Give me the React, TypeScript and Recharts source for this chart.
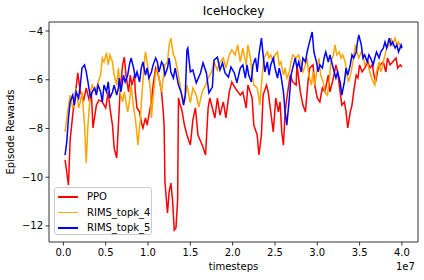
import { LineChart, Line, XAxis, YAxis, ReferenceArea } from 'recharts'

const X_TICKS = [0, 0.5, 1, 1.5, 2, 2.5, 3, 3.5, 4]
const Y_TICKS = [-12, -10, -8, -6, -4]
const X_DOMAIN = [-0.17, 4.19]
const Y_DOMAIN = [-12.66, -3.63]

// timesteps are in units of 1e7
const ppoSteps = [
  0.02, 0.06, 0.08, 0.11, 0.14, 0.17, 0.2, 0.24, 0.27, 0.31, 0.33, 0.35, 0.39, 0.42, 0.46, 0.5,
  0.53, 0.55, 0.58, 0.6, 0.63, 0.65, 0.67, 0.7, 0.72, 0.74, 0.77, 0.79, 0.81, 0.84, 0.85, 0.87,
  0.9, 0.92, 0.94, 0.97, 0.99, 1.01, 1.04, 1.06, 1.09, 1.11, 1.13, 1.16, 1.18, 1.19, 1.2, 1.23,
  1.25, 1.27, 1.29, 1.31, 1.33, 1.35, 1.36, 1.38, 1.4, 1.43, 1.46, 1.5, 1.53, 1.56, 1.59, 1.64,
  1.68, 1.71, 1.73, 1.76, 1.79, 1.82, 1.85, 1.89, 1.92, 1.96, 1.99, 2.03, 2.09, 2.12, 2.16, 2.18,
  2.23, 2.25, 2.29, 2.31, 2.34, 2.36, 2.4, 2.42, 2.45, 2.48, 2.51, 2.54, 2.56, 2.58, 2.6, 2.62,
  2.64, 2.68, 2.71, 2.75, 2.76, 2.8, 2.83, 2.86, 2.89, 2.91, 2.95, 2.97, 3.0, 3.03, 3.06, 3.09,
  3.13, 3.15, 3.19, 3.22, 3.24, 3.27, 3.29, 3.32, 3.34, 3.36, 3.39, 3.41, 3.43, 3.46, 3.48, 3.5,
  3.53, 3.56, 3.6, 3.62, 3.65, 3.67, 3.69, 3.72, 3.74, 3.78, 3.81, 3.83, 3.86, 3.89, 3.93, 3.95,
  3.98, 4.0,
]
const ppoRewards = [
  -9.29, -10.32, -8.47, -7.45, -6.63, -5.72, -6.5, -6.83, -6.34, -6.91, -6.5, -7.98, -7.04, -6.83, -6.91, -7.16,
  -6.5, -7.16, -7.86, -8.8, -9.21, -7.86, -6.5, -5.39, -5.07, -5.81, -6.5, -5.81, -6.22, -5.81, -6.5, -7.16,
  -7.32, -7.73, -7.98, -7.57, -7.86, -7.45, -6.91, -6.22, -5.52, -5.68, -5.93, -6.5, -7.32, -7.86, -10.2, -11.47,
  -10.6, -10.24, -10.93, -12.17, -12.08, -10.93, -6.75, -7.04, -7.24, -7.86, -8.27, -8.68, -7.65, -7.16, -8.27, -8.68,
  -9.09, -7.16, -6.75, -7.16, -7.57, -6.75, -7.45, -6.91, -7.57, -6.5, -6.09, -6.34, -6.63, -6.5, -7.16, -6.22,
  -6.75, -7.86, -8.27, -9.09, -8.27, -6.63, -6.22, -6.5, -7.32, -8.14, -6.75, -7.32, -6.91, -8.14, -8.68, -7.32,
  -6.75, -5.81, -6.09, -6.22, -5.39, -6.5, -7.04, -7.32, -6.09, -5.52, -5.39, -6.22, -6.75, -6.91, -6.34, -6.5,
  -5.81, -6.5, -5.93, -5.39, -5.68, -6.5, -7.04, -6.91, -7.32, -7.98, -7.32, -7.04, -6.5, -5.81, -5.93, -5.39,
  -5.68, -5.52, -5.27, -5.52, -5.39, -5.81, -6.09, -5.52, -5.39, -5.27, -5.68, -5.11, -5.39, -5.27, -5.11, -5.52,
  -5.39, -5.48,
]

const topk4Steps = [
  0.02, 0.05, 0.08, 0.11, 0.13, 0.15, 0.18, 0.2, 0.22, 0.25, 0.27, 0.29, 0.32, 0.34, 0.38, 0.4,
  0.44, 0.46, 0.48, 0.51, 0.53, 0.55, 0.58, 0.6, 0.63, 0.65, 0.67, 0.7, 0.72, 0.76, 0.78, 0.8,
  0.83, 0.85, 0.87, 0.88, 0.91, 0.93, 0.96, 0.97, 1.0, 1.03, 1.04, 1.06, 1.09, 1.11, 1.13, 1.16,
  1.18, 1.2, 1.23, 1.25, 1.27, 1.3, 1.32, 1.36, 1.39, 1.43, 1.46, 1.5, 1.53, 1.57, 1.6, 1.64,
  1.68, 1.71, 1.75, 1.78, 1.82, 1.85, 1.89, 1.92, 1.96, 1.99, 2.03, 2.06, 2.09, 2.12, 2.16, 2.18,
  2.21, 2.23, 2.25, 2.29, 2.31, 2.32, 2.35, 2.37, 2.41, 2.43, 2.45, 2.48, 2.5, 2.53, 2.55, 2.57,
  2.6, 2.62, 2.64, 2.67, 2.69, 2.71, 2.75, 2.78, 2.81, 2.83, 2.86, 2.88, 2.9, 2.93, 2.95, 2.97,
  3.0, 3.02, 3.04, 3.07, 3.09, 3.12, 3.14, 3.16, 3.19, 3.21, 3.23, 3.26, 3.28, 3.3, 3.33, 3.35,
  3.37, 3.4, 3.42, 3.45, 3.47, 3.49, 3.52, 3.54, 3.56, 3.59, 3.61, 3.63, 3.66, 3.68, 3.7, 3.73,
  3.75, 3.78, 3.8, 3.82, 3.85, 3.87, 3.89, 3.92, 3.94, 3.96, 3.99, 4.0,
]
const topk4Rewards = [
  -8.14, -7.32, -6.63, -7.16, -7.04, -6.34, -7.16, -6.91, -6.5, -7.86, -9.42, -7.86, -6.5, -6.22, -6.5, -6.22,
  -5.81, -5.11, -5.27, -4.9, -5.39, -4.98, -5.27, -5.81, -6.22, -5.52, -6.5, -6.91, -6.5, -7.32, -6.91, -6.22,
  -7.16, -7.57, -8.27, -8.68, -7.57, -6.5, -5.11, -4.86, -5.52, -6.5, -7.57, -6.75, -5.68, -5.52, -5.93, -6.5,
  -5.93, -5.39, -5.27, -4.57, -4.29, -4.98, -5.11, -5.81, -6.5, -6.91, -6.22, -6.95, -6.34, -6.63, -7.12, -6.5,
  -6.22, -5.93, -5.68, -5.27, -5.6, -5.27, -5.11, -5.52, -4.98, -4.78, -4.98, -4.57, -5.27, -4.7, -5.39, -4.57,
  -5.11, -5.81, -6.22, -6.34, -6.75, -7.04, -5.81, -5.11, -4.86, -5.11, -4.98, -5.27, -4.98, -4.86, -5.39, -5.27,
  -5.81, -5.52, -5.93, -5.68, -5.27, -4.98, -5.11, -4.98, -5.39, -5.68, -5.39, -5.11, -5.81, -6.22, -5.68, -6.22,
  -5.52, -5.11, -5.81, -6.09, -6.5, -6.63, -6.09, -5.27, -4.98, -4.57, -4.98, -4.86, -5.11, -4.98, -5.27, -5.81,
  -6.09, -5.68, -5.27, -4.57, -4.86, -5.11, -4.86, -4.98, -5.39, -5.27, -5.52, -5.81, -6.09, -6.22, -5.68, -5.27,
  -5.68, -5.27, -4.98, -4.7, -4.57, -4.29, -4.57, -4.29, -4.57, -4.45, -4.7, -4.57,
]

const topk5Steps = [
  0.02, 0.04, 0.06, 0.08, 0.11, 0.13, 0.15, 0.18, 0.2, 0.22, 0.25, 0.27, 0.29, 0.32, 0.34, 0.37,
  0.39, 0.41, 0.44, 0.46, 0.48, 0.51, 0.53, 0.55, 0.58, 0.6, 0.63, 0.65, 0.66, 0.68, 0.71, 0.73,
  0.76, 0.78, 0.8, 0.83, 0.85, 0.87, 0.9, 0.92, 0.94, 0.97, 0.99, 1.01, 1.04, 1.06, 1.09, 1.11,
  1.13, 1.16, 1.18, 1.2, 1.23, 1.25, 1.27, 1.3, 1.32, 1.36, 1.39, 1.42, 1.44, 1.46, 1.47, 1.5,
  1.53, 1.57, 1.62, 1.65, 1.69, 1.72, 1.76, 1.78, 1.82, 1.85, 1.88, 1.91, 1.95, 1.98, 2.02, 2.05,
  2.09, 2.12, 2.15, 2.17, 2.19, 2.22, 2.24, 2.27, 2.29, 2.31, 2.34, 2.36, 2.38, 2.41, 2.43, 2.45,
  2.48, 2.5, 2.53, 2.55, 2.57, 2.6, 2.62, 2.64, 2.67, 2.69, 2.71, 2.74, 2.76, 2.78, 2.81, 2.83,
  2.86, 2.88, 2.9, 2.93, 2.94, 2.96, 2.99, 3.01, 3.03, 3.06, 3.08, 3.1, 3.13, 3.15, 3.17, 3.2,
  3.22, 3.24, 3.27, 3.29, 3.32, 3.34, 3.36, 3.39, 3.41, 3.43, 3.46, 3.47, 3.49, 3.52, 3.54, 3.56,
  3.59, 3.61, 3.63, 3.66, 3.68, 3.7, 3.73, 3.75, 3.78, 3.8, 3.82, 3.85, 3.87, 3.89, 3.92, 3.94,
  3.96, 3.99, 4.0,
]
const topk5Rewards = [
  -9.09, -8.55, -7.57, -6.91, -6.63, -7.04, -6.5, -6.75, -6.22, -5.52, -5.39, -5.68, -6.09, -6.75, -6.5, -6.34,
  -6.63, -6.22, -6.5, -6.91, -6.22, -6.5, -6.09, -6.75, -6.5, -6.22, -6.63, -6.34, -5.93, -6.5, -5.81, -6.09,
  -5.81, -5.39, -5.11, -5.52, -5.93, -5.68, -6.09, -5.52, -5.27, -5.81, -5.52, -5.93, -5.68, -5.39, -5.11, -5.27,
  -5.68, -5.27, -5.39, -5.81, -5.52, -5.11, -5.68, -5.93, -5.52, -6.22, -6.5, -7.04, -6.63, -4.78, -4.7, -5.68,
  -5.6, -6.13, -5.72, -5.31, -5.72, -6.54, -6.3, -5.19, -5.07, -5.6, -5.31, -5.72, -5.89, -5.48, -5.72, -6.13,
  -5.52, -5.39, -5.93, -5.39, -5.81, -6.09, -5.39, -5.11, -5.68, -4.98, -4.29, -4.98, -5.68, -5.27, -5.81, -5.39,
  -5.11, -5.52, -5.93, -5.52, -5.81, -6.5, -7.32, -7.86, -6.75, -5.81, -5.52, -5.11, -5.52, -5.27, -5.68, -5.11,
  -5.27, -4.86, -4.57, -4.16, -4.04, -4.86, -5.27, -5.68, -5.39, -5.52, -5.11, -4.86, -5.27, -4.98, -5.27, -5.68,
  -5.93, -5.68, -6.09, -6.63, -6.09, -5.52, -5.81, -5.39, -4.98, -5.11, -4.86, -4.57, -4.16, -4.57, -5.11, -4.98,
  -5.27, -4.98, -5.11, -5.39, -5.11, -4.86, -5.11, -4.86, -4.7, -4.45, -4.7, -4.29, -4.57, -4.45, -4.7, -4.57,
  -4.86, -4.57, -4.7,
]

const series = [
  { name: 'PPO', color: '#ff0000', steps: ppoSteps, rewards: ppoRewards },
  { name: 'RIMS_topk_4', color: '#ffa500', steps: topk4Steps, rewards: topk4Rewards },
  { name: 'RIMS_topk_5', color: '#0000ff', steps: topk5Steps, rewards: topk5Rewards },
]

const FONT = '"DejaVu Sans", sans-serif'
const fmtY = (v: number) => String(v).replace('-', '\u2212')

export default function App() {
  return (
    <div style={{ position: 'absolute', left: 0, top: 0, width: 424, height: 280, background: '#fff', fontFamily: FONT }}>
      <LineChart width={424} height={280} margin={{ top: 22, right: 6, bottom: 0, left: 0 }}>
        <XAxis
          type="number"
          dataKey="x"
          domain={X_DOMAIN}
          ticks={X_TICKS}
          allowDataOverflow
          height={38}
          axisLine={false}
          tickSize={3.5}
          tickMargin={3}
          tickLine={{ stroke: '#000', strokeWidth: 0.8 }}
          tick={{ fontSize: 10, fill: '#000', fontFamily: FONT }}
          tickFormatter={(v: number) => v.toFixed(1)}
        />
        <YAxis
          type="number"
          domain={Y_DOMAIN}
          ticks={Y_TICKS}
          allowDataOverflow
          width={49}
          axisLine={false}
          tickSize={3.5}
          tickMargin={2.5}
          tickLine={{ stroke: '#000', strokeWidth: 0.8 }}
          tick={{ fontSize: 10, fill: '#000', fontFamily: FONT }}
          tickFormatter={fmtY}
        />
        {series.map((s) => (
          <Line
            key={s.name}
            data={s.steps.map((x, i) => ({ x, y: s.rewards[i] }))}
            dataKey="y"
            name={s.name}
            type="linear"
            stroke={s.color}
            strokeWidth={1.5}
            dot={false}
            isAnimationActive={false}
          />
        ))}
        <ReferenceArea
          x1={X_DOMAIN[0]}
          x2={X_DOMAIN[1]}
          y1={Y_DOMAIN[0]}
          y2={Y_DOMAIN[1]}
          fill="none"
          stroke="#000"
          strokeWidth={0.8}
          ifOverflow="visible"
        />
      </LineChart>
      <div style={{ position: 'absolute', left: 49, width: 369, top: 4, textAlign: 'center', fontSize: 12 }}>IceHockey</div>
      <div style={{ position: 'absolute', left: 49, width: 369, top: 261, textAlign: 'center', fontSize: 10 }}>timesteps</div>
      <div style={{ position: 'absolute', left: 396, top: 261, fontSize: 10 }}>1e7</div>
      <div
        style={{
          position: 'absolute', left: 10, top: 132, fontSize: 10, whiteSpace: 'nowrap',
          transform: 'translate(-50%, -50%) rotate(-90deg)',
        }}
      >
        Episode Rewards
      </div>
      <div
        style={{
          position: 'absolute', left: 54, top: 187, width: 96, height: 46,
          border: '1px solid #cccccc', borderRadius: 3, background: 'rgba(255,255,255,0.8)',
          fontSize: 10,
        }}
      >
        {series.map((s, i) => (
          <div key={s.name} style={{ position: 'absolute', left: 3, top: 3 + i * 15.5, height: 12, display: 'flex', alignItems: 'center' }}>
            <span style={{ display: 'inline-block', width: 20, height: 1.5, background: s.color }} />
            <span style={{ marginLeft: 9, lineHeight: '12px' }}>{s.name}</span>
          </div>
        ))}
      </div>
    </div>
  )
}
